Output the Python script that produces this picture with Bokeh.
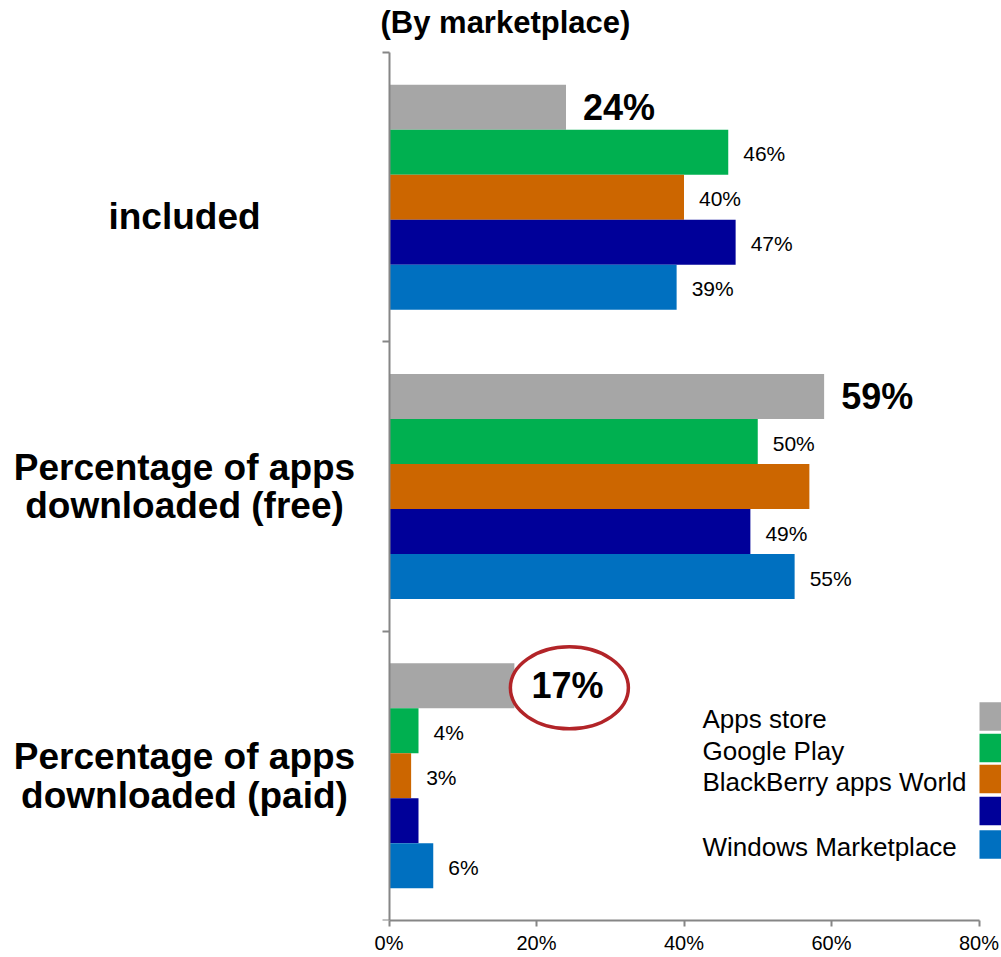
from bokeh.plotting import figure
from bokeh.models import Range1d, FixedTicker, ColumnDataSource
from bokeh.core.properties import value
from bokeh.embed import file_html
from bokeh.resources import INLINE

# ---------------- data ----------------
categories = ["included",
              "Percentage of apps\ndownloaded (free)",
              "Percentage of apps\ndownloaded (paid)"]
series_names = ["Apps store", "Google Play", "BlackBerry apps World", "", "Windows Marketplace"]
apps_store = [24, 59, 17]
google_play = [46, 50, 4]
blackberry = [40, 57, 3]
dark_blue = [47, 49, 4]
windows = [39, 55, 6]
apps_store_labels = ["24%", "59%", "17%"]
google_play_labels = ["46%", "50%", "4%"]
blackberry_labels = ["40%", "", "3%"]
dark_blue_labels = ["47%", "49%", ""]
windows_labels = ["39%", "55%", "6%"]
x_ticks = [0, 20, 40, 60, 80]
x_tick_labels = ["0%", "20%", "40%", "60%", "80%"]
title_text = "(By marketplace)"
circled_category = 2  # the paid Apps store value is circled

# ---------------- styles / layout ----------------
colors = ["#A6A6A6", "#00B050", "#CC6600", "#000099", "#0070C0"]
FONT = "Liberation Sans"
W, H = 1001, 957
LEFT, BOTTOM = 12, 37
X0_PX = 388.5                 # pixel of 0 %
PX_X = 590.0 / 80.0           # pixels per percent
Y0_PX = 920.0                 # pixel of category-axis bottom
PX_Y = 868.0 / 3.0            # pixels per category band


def dx(px):  # page x pixel -> data x
    return (px - X0_PX) / PX_X


def dy(py):  # page y pixel -> data y
    return (Y0_PX - py) / PX_Y


bar_h = 45.0 / PX_Y

p = figure(width=W, height=H, output_backend="svg", toolbar_location=None,
           x_range=Range1d(dx(LEFT), dx(W)), y_range=Range1d(0, dy(0)),
           min_border_left=LEFT, min_border_right=0,
           min_border_top=0, min_border_bottom=BOTTOM)
p.outline_line_color = None
p.grid.visible = False
p.background_fill_color = "white"
p.border_fill_color = "white"

axis_color = "#868686"
p.xaxis.bounds = (0, 80)
p.xaxis.ticker = FixedTicker(ticks=x_ticks)
p.xaxis.major_label_overrides = {t: l for t, l in zip(x_ticks, x_tick_labels)}
p.xaxis.major_label_text_font = FONT
p.xaxis.major_label_text_font_size = "20px"
p.xaxis.major_label_text_color = "black"
p.xaxis.major_label_standoff = 5
p.xaxis.axis_line_color = axis_color
p.xaxis.axis_line_width = 2
p.xaxis.major_tick_line_color = axis_color
p.xaxis.major_tick_line_width = 2
p.xaxis.major_tick_out = 6
p.xaxis.major_tick_in = 0
p.xaxis.minor_tick_line_color = None

# category axis: only boundary ticks (as minor ticks, so no labels are drawn)
p.yaxis.fixed_location = 0
p.yaxis.bounds = (0, 3)
p.yaxis.ticker = FixedTicker(ticks=[], minor_ticks=[0, 1, 2, 3])
p.yaxis.major_label_standoff = 0
p.yaxis.axis_line_color = axis_color
p.yaxis.axis_line_width = 2
p.yaxis.major_tick_line_color = None
p.yaxis.minor_tick_line_color = axis_color
p.yaxis.minor_tick_line_width = 2
p.yaxis.minor_tick_out = 7
p.yaxis.minor_tick_in = 0

centers = [2.5 - i for i in range(len(categories))]
all_values = [apps_store, google_play, blackberry, dark_blue, windows]
all_labels = [apps_store_labels, google_play_labels, blackberry_labels,
              dark_blue_labels, windows_labels]

# bars
for k, vals in enumerate(all_values):
    ys = [c + (2 - k) * bar_h for c in centers]
    p.hbar(y=ys, left=0, right=vals, height=bar_h,
           fill_color=colors[k], line_color=None)

# circle around the paid Apps store label
cx = apps_store[circled_category] + (18 + 37) / PX_X
cy = centers[circled_category] + 2 * bar_h - 2.0 / PX_Y
p.ellipse(x=[cx], y=[cy], width=118, height=82, width_units="screen",
          height_units="screen", fill_color="white", line_color="#B22428",
          line_width=3.5)

# value labels
for k, (vals, labs) in enumerate(zip(all_values, all_labels)):
    ys = [c + (2 - k) * bar_h for c in centers]
    keep = [i for i, l in enumerate(labs) if l]
    if k == 0:
        src = ColumnDataSource(dict(y=[ys[i] for i in keep],
                                    lab=[labs[i] for i in keep],
                                    lx=[vals[i] + 17 / PX_X for i in keep]))
        p.text(x="lx", y="y", text="lab", source=src, text_font=value(FONT),
               text_font_style="bold", text_font_size="36px",
               text_baseline="middle", text_align="left", text_color="black")
    else:
        src = ColumnDataSource(dict(y=[ys[i] - 1.5 / PX_Y for i in keep],
                                    lab=[labs[i] for i in keep],
                                    lx=[vals[i] + 15 / PX_X for i in keep]))
        p.text(x="lx", y="y", text="lab", source=src, text_font=value(FONT),
               text_font_size="21px", text_baseline="middle", text_align="left",
               text_color="black")

# legend (custom, swatches at the right edge)
sw_centers = [dy(716), dy(747.5), dy(778.5), dy(810.5), dy(844)]
sw_h = 28.5 / PX_Y
p.quad(left=dx(979), right=dx(W + 5), bottom=[c - sw_h / 2 for c in sw_centers],
       top=[c + sw_h / 2 for c in sw_centers], fill_color=colors, line_color=None)
leg_keep = [i for i, n in enumerate(series_names) if n]
leg_src = ColumnDataSource(dict(x=[dx(702)] * len(leg_keep),
                                y=[sw_centers[i] - 2.5 / PX_Y for i in leg_keep],
                                t=[series_names[i] for i in leg_keep]))
p.text(x="x", y="y", text="t", source=leg_src, text_font=value(FONT),
       text_font_size="26px", text_baseline="middle", text_align="left",
       text_color="black")

# category labels (left of axis)
cat_offsets = [-19.5 / PX_Y, 0.0, 0.0]
cat_src = ColumnDataSource(dict(x=[dx(184)] * len(categories),
                                y=[c + o for c, o in zip(centers, cat_offsets)],
                                t=categories))
p.text(x="x", y="y", text="t", source=cat_src, text_font=value(FONT),
       text_font_style="bold", text_font_size="37px", text_align="center",
       text_baseline="middle", text_line_height=0.94, text_color="black")

# title
p.text(x=[dx(380)], y=[dy(22)], text=[title_text], text_font=value(FONT),
       text_font_style="bold", text_font_size="31px", text_align="left",
       text_baseline="middle", text_color="black")

open("out.html", "w").write(file_html(p, INLINE))
